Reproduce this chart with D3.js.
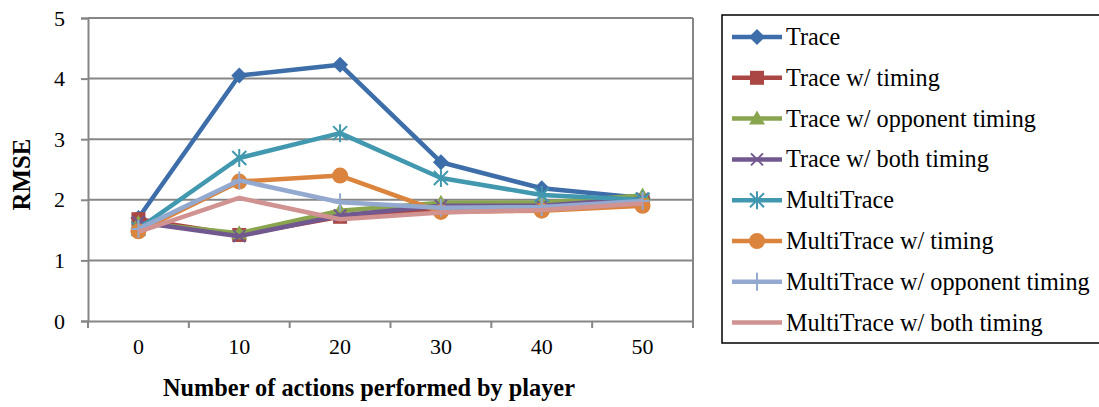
<!DOCTYPE html>
<html><head><meta charset="utf-8">
<script src="https://cdn.jsdelivr.net/npm/d3@7"></script>
<style>body{margin:0;background:#fff}svg{display:block}</style>
</head><body><svg id="c" width="1099" height="407"></svg>
<script>
const categories = ["0","10","20","30","40","50"];
const yTicks = [0,1,2,3,4,5];
const seriesNames = ["Trace","Trace w/ timing","Trace w/ opponent timing","Trace w/ both timing","MultiTrace","MultiTrace w/ timing","MultiTrace w/ opponent timing","MultiTrace w/ both timing"];
const trace = [1.70,4.05,4.23,2.62,2.19,2.03];
const traceTiming = [1.68,1.42,1.72,1.85,1.88,1.97];
const traceOpp = [1.62,1.45,1.82,1.95,1.95,2.07];
const traceBoth = [1.63,1.40,1.74,1.90,1.90,2.02];
const multi = [1.52,2.69,3.10,2.36,2.08,2.00];
const multiTiming = [1.48,2.30,2.40,1.80,1.82,1.90];
const multiOpp = [1.52,2.32,1.96,1.87,1.88,1.98];
const multiBoth = [1.47,2.03,1.68,1.79,1.83,1.94];
const colors = ["#3D6EAA","#AA4643","#89A54E","#71588F","#4198AF","#DB843D","#93A9CF","#D19392"];
const markers = ["diamond","square","triangle","x","star","circle","plus","none"];
const allValues = [trace,traceTiming,traceOpp,traceBoth,multi,multiTiming,multiOpp,multiBoth];

const FONT = '"Liberation Serif"';
const svg = d3.select("#c");
const L=88,R=693,T=18,B=321;
const x = d3.scaleBand().domain(categories).range([L,R]);
const y = d3.scaleLinear().domain([0,5]).range([B,T]);
const grid="#868686";

function fit(sel, targetW){
  const w = sel.node().getComputedTextLength();
  const fs = parseFloat(sel.style("font-size"));
  sel.style("font-size",(fs*targetW/w)+"px");
}

// gridlines
svg.append("g").selectAll("line").data(yTicks.slice(1)).join("line")
 .attr("x1",L).attr("x2",R).attr("y1",d=>y(d)).attr("y2",d=>y(d))
 .attr("stroke",grid).attr("stroke-width",2);
svg.append("line").attr("x1",R).attr("x2",R).attr("y1",T).attr("y2",B).attr("stroke",grid).attr("stroke-width",2);

// y axis
const ya = svg.append("g").attr("transform",`translate(${L},0)`)
 .call(d3.axisLeft(y).tickValues(yTicks).tickSize(7).tickPadding(16).tickFormat(d3.format("d")))
 .attr("font-family","Liberation Serif").attr("font-size",22);
ya.select(".domain").attr("stroke",grid).attr("stroke-width",2);
ya.selectAll(".tick line").attr("stroke",grid).attr("stroke-width",2);
ya.selectAll(".tick text").style("font-size","22px").style("font-family",FONT).attr("fill","#000");

// x axis
const xa = svg.append("g").attr("transform",`translate(0,${B})`)
 .call(d3.axisBottom(x).tickSize(0).tickPadding(17))
 .attr("font-family","Liberation Serif").attr("font-size",22);
xa.select(".domain").attr("stroke",grid).attr("stroke-width",2);
xa.selectAll(".tick text").style("font-size","22px").style("font-family",FONT).attr("fill","#000");
const bounds = categories.map(c=>x(c)).concat([R]);
svg.append("g").selectAll("line").data(bounds).join("line")
 .attr("x1",d=>d).attr("x2",d=>d).attr("y1",B).attr("y2",B+7).attr("stroke",grid).attr("stroke-width",2);

// axis titles
const xt = svg.append("text").attr("x",369).attr("y",396).attr("text-anchor","middle")
 .style("font-family",FONT).style("font-size","21px").style("font-weight","bold").text("Number of actions performed by player");
fit(xt,412);
const yt = svg.append("text").attr("transform",`translate(30,${(T+B)/2 + 5}) rotate(-90)`).attr("text-anchor","middle")
 .style("font-family",FONT).style("font-size","24px").style("font-weight","bold").text("RMSE");
fit(yt,72);

function drawMarker(g,type,color,cx,cy){
  if(type==="diamond") g.append("path").attr("d",`M${cx},${cy-8}L${cx+8},${cy}L${cx},${cy+8}L${cx-8},${cy}Z`).attr("fill",color);
  else if(type==="square") g.append("rect").attr("x",cx-7).attr("y",cy-7).attr("width",14).attr("height",14).attr("fill",color);
  else if(type==="triangle") g.append("path").attr("d",`M${cx},${cy-8}L${cx+8},${cy+6}L${cx-8},${cy+6}Z`).attr("fill",color);
  else if(type==="x") g.append("path").attr("d",`M${cx-6},${cy-6}L${cx+6},${cy+6}M${cx-6},${cy+6}L${cx+6},${cy-6}`).attr("stroke",color).attr("stroke-width",2);
  else if(type==="star") g.append("path").attr("d",`M${cx-7},${cy-7}L${cx+7},${cy+7}M${cx-7},${cy+7}L${cx+7},${cy-7}M${cx},${cy-9}L${cx},${cy+9}`).attr("stroke",color).attr("stroke-width",2);
  else if(type==="circle") g.append("circle").attr("cx",cx).attr("cy",cy).attr("r",8).attr("fill",color);
  else if(type==="plus") g.append("path").attr("d",`M${cx},${cy-9}L${cx},${cy+9}M${cx-7},${cy}L${cx+7},${cy}`).attr("stroke",color).attr("stroke-width",2);
}

const line = d3.line().x((d,i)=>x(categories[i])+x.bandwidth()/2).y(d=>y(d));
allValues.forEach((vals,si)=>{
  const g = svg.append("g");
  g.append("path").datum(vals).attr("d",line).attr("fill","none").attr("stroke",colors[si]).attr("stroke-width",4.5).attr("stroke-linejoin","round");
  vals.forEach((v,i)=>drawMarker(g,markers[si],colors[si],x(categories[i])+x.bandwidth()/2,y(v)));
});

// legend
const lg = svg.append("g");
lg.append("rect").attr("x",722).attr("y",15).attr("width",380).attr("height",328).attr("fill","none").attr("stroke","#000").attr("stroke-width",1.5);
seriesNames.forEach((n,i)=>{
  const cy = 37 + i*40.8;
  lg.append("line").attr("x1",732).attr("x2",782).attr("y1",cy).attr("y2",cy).attr("stroke",colors[i]).attr("stroke-width",4.5);
  drawMarker(lg,markers[i],colors[i],757,cy);
  const t = lg.append("text").attr("x",786).attr("y",cy+8).style("font-family",FONT).style("font-size","24px").attr("fill","#000").text(n);
  if(i===2) fit(t,250);
});
const fs = lg.selectAll("text").filter((d,i)=>i===2).style("font-size");
lg.selectAll("text").style("font-size",fs);
</script></body></html>
